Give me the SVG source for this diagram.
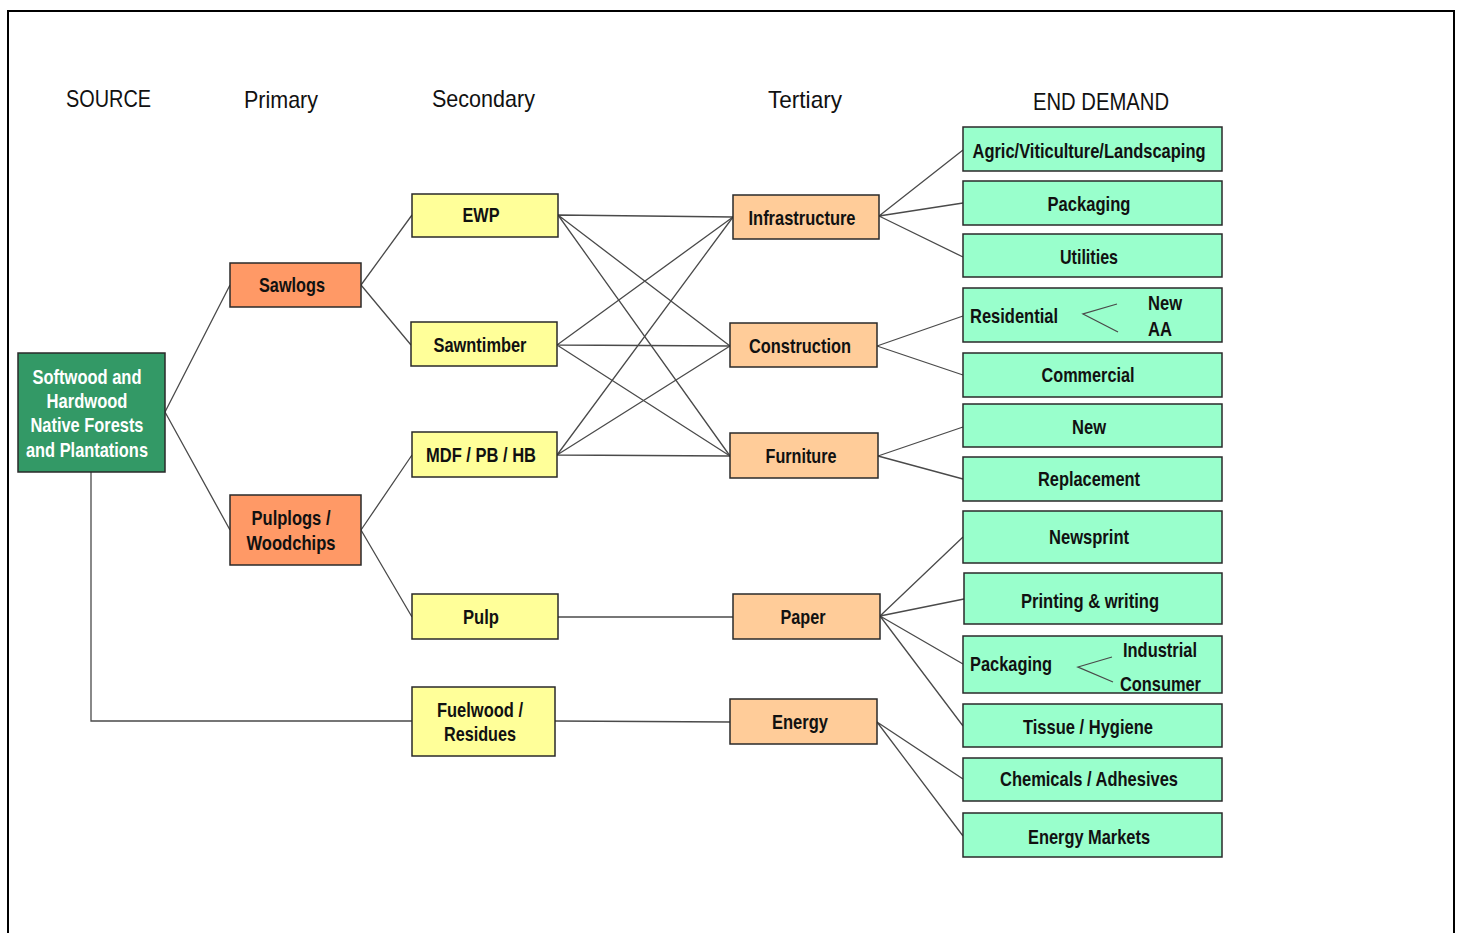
<svg xmlns="http://www.w3.org/2000/svg" width="1460" height="933" viewBox="0 0 1460 933">
<style>
.bx{stroke:#2a2a2a;stroke-width:1.5}
.src{fill:#339966}
.pri{fill:#FF9966}
.sec{fill:#FFFF99}
.ter{fill:#FFCC99}
.end{fill:#99FFCC}
text{font-family:"Liberation Sans",Arial,sans-serif;fill:#111}
.hd{font-size:24px}
.t{font-size:21px;font-weight:bold;text-anchor:middle}
.tl{font-size:21px;font-weight:bold}
.w{fill:#fff}
.cn{stroke:#4a4a4a;stroke-width:1.3;fill:none}
</style>
<rect width="1460" height="933" fill="#fff"/>
<path d="M8,933 V11 H1454 V933" fill="none" stroke="#000" stroke-width="2"/>

<g id="headers">
<text class="hd" x="66" y="107" textLength="85" lengthAdjust="spacingAndGlyphs">SOURCE</text>
<text class="hd" x="244" y="108" textLength="74" lengthAdjust="spacingAndGlyphs">Primary</text>
<text class="hd" x="432" y="107" textLength="103" lengthAdjust="spacingAndGlyphs">Secondary</text>
<text class="hd" x="768" y="108" textLength="74" lengthAdjust="spacingAndGlyphs">Tertiary</text>
<text class="hd" x="1033" y="110" textLength="136" lengthAdjust="spacingAndGlyphs">END DEMAND</text>
</g>

<g id="connectors">
<path class="cn" d="M165,412 L230,285 M165,412 L230,530"/>
<path class="cn" d="M91,472 V721 H412"/>
<path class="cn" d="M361,285 L412,215 M361,285 L411,345"/>
<path class="cn" d="M361,530 L412,455 M361,530 L412,617"/>
<path class="cn" d="M558,215 L733,217 M558,215 L730,346 M558,215 L730,456"/>
<path class="cn" d="M557,345 L733,217 M557,345 L730,346 M557,345 L730,456"/>
<path class="cn" d="M557,455 L733,217 M557,455 L730,346 M557,455 L730,456"/>
<path class="cn" d="M558,617 L733,617"/>
<path class="cn" d="M555,721 L730,722"/>
<path class="cn" d="M879,216 L963,150 M879,216 L963,203 M879,216 L963,257"/>
<path class="cn" d="M877,346 L963,316 M877,346 L963,375"/>
<path class="cn" d="M878,456 L963,427 M878,456 L963,479"/>
<path class="cn" d="M880,616 L963,537 M880,616 L964,599 M880,616 L963,664 M880,616 L963,726"/>
<path class="cn" d="M877,722 L963,779 M877,722 L963,836"/>
</g>

<g id="source">
<rect class="bx src" x="18" y="353" width="147" height="119"/>
<text class="t w" x="87" y="384" textLength="109" lengthAdjust="spacingAndGlyphs">Softwood and</text>
<text class="t w" x="87" y="408" textLength="81" lengthAdjust="spacingAndGlyphs">Hardwood</text>
<text class="t w" x="87" y="432" textLength="113" lengthAdjust="spacingAndGlyphs">Native Forests</text>
<text class="t w" x="87" y="457" textLength="122" lengthAdjust="spacingAndGlyphs">and Plantations</text>
</g>

<g id="sawlogs">
<rect class="bx pri" x="230" y="263" width="131" height="44"/>
<text class="t" x="292" y="292" textLength="66" lengthAdjust="spacingAndGlyphs">Sawlogs</text>
</g>
<g id="pulplogs">
<rect class="bx pri" x="230" y="495" width="131" height="70"/>
<text class="t" x="291" y="525" textLength="79" lengthAdjust="spacingAndGlyphs">Pulplogs /</text>
<text class="t" x="291" y="550" textLength="89" lengthAdjust="spacingAndGlyphs">Woodchips</text>
</g>

<g id="ewp">
<rect class="bx sec" x="412" y="194" width="146" height="43"/>
<text class="t" x="481" y="222" textLength="37" lengthAdjust="spacingAndGlyphs">EWP</text>
</g>
<g id="sawntimber">
<rect class="bx sec" x="411" y="322" width="146" height="44"/>
<text class="t" x="480" y="352" textLength="93" lengthAdjust="spacingAndGlyphs">Sawntimber</text>
</g>
<g id="mdf">
<rect class="bx sec" x="412" y="432" width="145" height="45"/>
<text class="t" x="481" y="462" textLength="110" lengthAdjust="spacingAndGlyphs">MDF / PB / HB</text>
</g>
<g id="pulp">
<rect class="bx sec" x="412" y="594" width="146" height="45"/>
<text class="t" x="481" y="624" textLength="36" lengthAdjust="spacingAndGlyphs">Pulp</text>
</g>
<g id="fuelwood">
<rect class="bx sec" x="412" y="687" width="143" height="69"/>
<text class="t" x="480" y="717" textLength="86" lengthAdjust="spacingAndGlyphs">Fuelwood /</text>
<text class="t" x="480" y="741" textLength="72" lengthAdjust="spacingAndGlyphs">Residues</text>
</g>

<g id="infrastructure">
<rect class="bx ter" x="733" y="195" width="146" height="44"/>
<text class="t" x="802" y="225" textLength="107" lengthAdjust="spacingAndGlyphs">Infrastructure</text>
</g>
<g id="construction">
<rect class="bx ter" x="730" y="323" width="147" height="44"/>
<text class="t" x="800" y="353" textLength="102" lengthAdjust="spacingAndGlyphs">Construction</text>
</g>
<g id="furniture">
<rect class="bx ter" x="730" y="433" width="148" height="45"/>
<text class="t" x="801" y="463" textLength="71" lengthAdjust="spacingAndGlyphs">Furniture</text>
</g>
<g id="paper">
<rect class="bx ter" x="733" y="594" width="147" height="45"/>
<text class="t" x="803" y="624" textLength="45" lengthAdjust="spacingAndGlyphs">Paper</text>
</g>
<g id="energy">
<rect class="bx ter" x="730" y="699" width="147" height="45"/>
<text class="t" x="800" y="729" textLength="56" lengthAdjust="spacingAndGlyphs">Energy</text>
</g>

<g id="agric">
<rect class="bx end" x="963" y="127" width="259" height="44"/>
<text class="t" x="1089" y="158" textLength="233" lengthAdjust="spacingAndGlyphs">Agric/Viticulture/Landscaping</text>
</g>
<g id="packaging1">
<rect class="bx end" x="963" y="181" width="259" height="44"/>
<text class="t" x="1089" y="211" textLength="83" lengthAdjust="spacingAndGlyphs">Packaging</text>
</g>
<g id="utilities">
<rect class="bx end" x="963" y="234" width="259" height="43"/>
<text class="t" x="1089" y="264" textLength="58" lengthAdjust="spacingAndGlyphs">Utilities</text>
</g>
<g id="residential">
<rect class="bx end" x="963" y="288" width="259" height="54"/>
<text class="tl" x="970" y="323" textLength="88" lengthAdjust="spacingAndGlyphs">Residential</text>
<path class="cn" d="M1117,304 L1083,314 L1118,332"/>
<text class="tl" x="1148" y="310" textLength="34" lengthAdjust="spacingAndGlyphs">New</text>
<text class="tl" x="1148" y="336" textLength="24" lengthAdjust="spacingAndGlyphs">AA</text>
</g>
<g id="commercial">
<rect class="bx end" x="963" y="353" width="259" height="44"/>
<text class="t" x="1088" y="382" textLength="93" lengthAdjust="spacingAndGlyphs">Commercial</text>
</g>
<g id="new">
<rect class="bx end" x="963" y="404" width="259" height="43"/>
<text class="t" x="1089" y="434" textLength="34" lengthAdjust="spacingAndGlyphs">New</text>
</g>
<g id="replacement">
<rect class="bx end" x="963" y="457" width="259" height="44"/>
<text class="t" x="1089" y="486" textLength="102" lengthAdjust="spacingAndGlyphs">Replacement</text>
</g>
<g id="newsprint">
<rect class="bx end" x="963" y="511" width="259" height="52"/>
<text class="t" x="1089" y="544" textLength="80" lengthAdjust="spacingAndGlyphs">Newsprint</text>
</g>
<g id="printing">
<rect class="bx end" x="964" y="573" width="258" height="51"/>
<text class="t" x="1090" y="608" textLength="138" lengthAdjust="spacingAndGlyphs">Printing &amp; writing</text>
</g>
<g id="packaging2">
<rect class="bx end" x="963" y="636" width="259" height="57"/>
<text class="tl" x="970" y="671" textLength="82" lengthAdjust="spacingAndGlyphs">Packaging</text>
<path class="cn" d="M1112,657 L1078,667 L1113,682"/>
<text class="tl" x="1123" y="657" textLength="74" lengthAdjust="spacingAndGlyphs">Industrial</text>
<text class="tl" x="1120" y="691" textLength="81" lengthAdjust="spacingAndGlyphs">Consumer</text>
</g>
<g id="tissue">
<rect class="bx end" x="963" y="704" width="259" height="43"/>
<text class="t" x="1088" y="734" textLength="130" lengthAdjust="spacingAndGlyphs">Tissue / Hygiene</text>
</g>
<g id="chemicals">
<rect class="bx end" x="963" y="758" width="259" height="43"/>
<text class="t" x="1089" y="786" textLength="178" lengthAdjust="spacingAndGlyphs">Chemicals / Adhesives</text>
</g>
<g id="energymarkets">
<rect class="bx end" x="963" y="813" width="259" height="44"/>
<text class="t" x="1089" y="844" textLength="122" lengthAdjust="spacingAndGlyphs">Energy Markets</text>
</g>
</svg>
